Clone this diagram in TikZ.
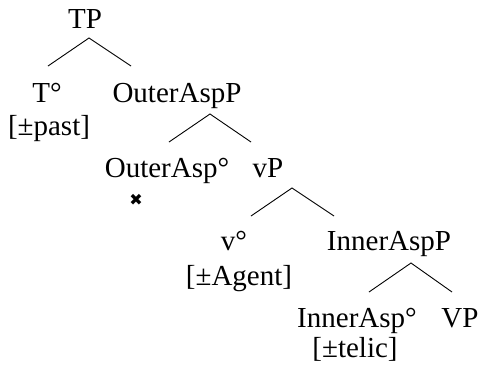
\documentclass[tikz,border=0pt]{standalone}
\usepackage{fontspec}
\setmainfont{Liberation Serif}
\newfontfamily\symfont{DejaVu Sans}
\begin{document}
\begin{tikzpicture}[x=1pt,y=-1pt,
  lbl/.style={anchor=base,inner sep=0pt,font=\fontsize{29}{33}\selectfont},
  crossmark/.style={inner sep=0pt,font=\symfont\fontsize{16}{16}\selectfont},
  branch/.style={line width=0.9pt}]
\useasboundingbox (0,0) rectangle (479,368);
% labels
\node[lbl] (TP)   at (85,28)   {TP};
\node[lbl] (T)    at (47,102)  {T°};
\node[lbl] (Tf)   at (49,135)  {[±past]};
\node[lbl] (OAP)  at (177,102) {OuterAspP};
\node[lbl] (OA)   at (167,177) {OuterAsp°};
\node[lbl] (vP)   at (268,177) {vP};
\node[crossmark] (x) at (136,200) {✖};
\node[lbl] (v)    at (234,250) {v°};
\node[lbl] (vf)   at (239,285) {[±Agent]};
\node[lbl] (IAP)  at (389,250) {InnerAspP};
\node[lbl] (IA)   at (357,327) {InnerAsp°};
\node[lbl] (VP)   at (460,327) {VP};
\node[lbl] (IAf)  at (355,357) {[±telic]};
% branch points
\coordinate (tp0) at (89,38);   \coordinate (tpL) at (48,66);   \coordinate (tpR) at (131,66);
\coordinate (oa0) at (210,114); \coordinate (oaL) at (169,142); \coordinate (oaR) at (251,142);
\coordinate (vp0) at (292,188); \coordinate (vpL) at (251,216); \coordinate (vpR) at (334,216);
\coordinate (ia0) at (411,263); \coordinate (iaL) at (369,292); \coordinate (iaR) at (452,292);
% branches
\draw[branch] (tpL) -- (tp0) -- (tpR);
\draw[branch] (oaL) -- (oa0) -- (oaR);
\draw[branch] (vpL) -- (vp0) -- (vpR);
\draw[branch] (iaL) -- (ia0) -- (iaR);
\end{tikzpicture}
\end{document}
